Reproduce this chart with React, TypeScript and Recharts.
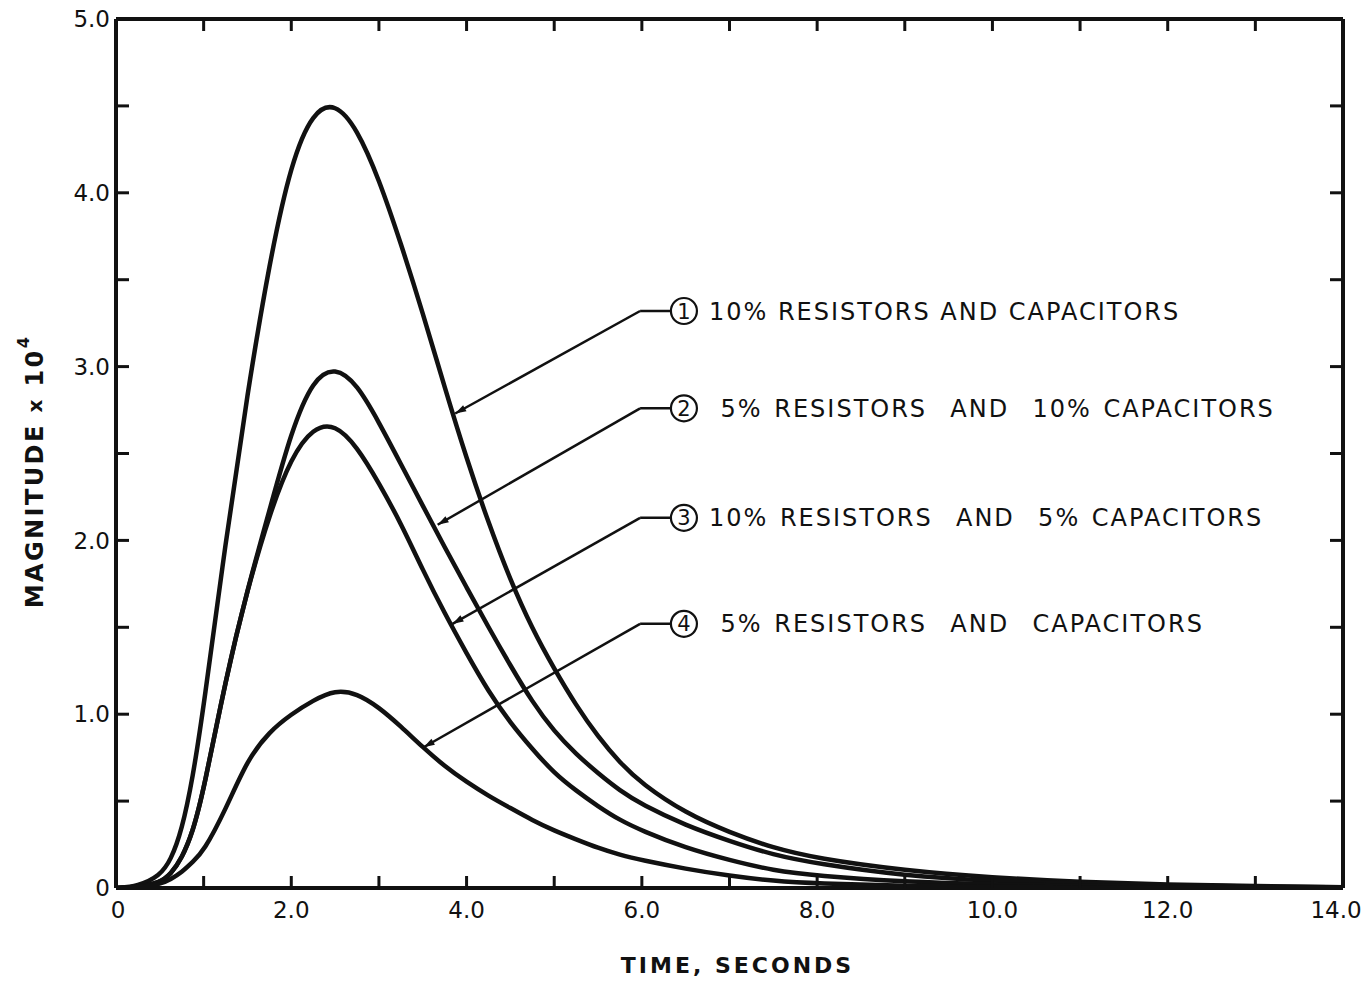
import React from 'react';
import { LineChart, Line, XAxis, YAxis, ReferenceLine, ReferenceDot } from 'recharts';

// time axis (seconds)
const TIME = [0, 0.25, 0.5, 0.625, 0.75, 0.875, 1.0, 1.25, 1.5, 1.75, 2.0, 2.25, 2.5, 2.75, 3.0, 3.25, 3.5, 3.75, 4.0, 4.25, 4.5, 4.75, 5.0, 5.25, 5.5, 5.75, 6.0, 6.5, 7.0, 7.5, 8.0, 9.0, 10.0, 11.0, 12.0, 13.0, 14.0];

// magnitude x 10^4
const CURVE_1 = [0, 0.01, 0.07, 0.16, 0.33, 0.63, 1.04, 1.99, 2.85, 3.6, 4.18, 4.47, 4.52, 4.37, 4.08, 3.71, 3.31, 2.88, 2.47, 2.1, 1.77, 1.49, 1.26, 1.05, 0.87, 0.72, 0.6, 0.43, 0.32, 0.23, 0.17, 0.1, 0.06, 0.035, 0.02, 0.01, 0.005];
const CURVE_2 = [0, 0.005, 0.03, 0.08, 0.17, 0.32, 0.56, 1.2, 1.72, 2.17, 2.63, 2.93, 3.0, 2.9, 2.68, 2.44, 2.2, 1.96, 1.73, 1.5, 1.28, 1.07, 0.9, 0.77, 0.66, 0.56, 0.48, 0.36, 0.27, 0.19, 0.14, 0.07, 0.04, 0.025, 0.015, 0.008, 0.004];
const CURVE_3 = [0, 0.005, 0.03, 0.08, 0.17, 0.32, 0.56, 1.2, 1.72, 2.15, 2.48, 2.65, 2.67, 2.54, 2.33, 2.1, 1.83, 1.58, 1.35, 1.13, 0.95, 0.8, 0.66, 0.56, 0.47, 0.39, 0.33, 0.23, 0.16, 0.1, 0.07, 0.035, 0.02, 0.012, 0.007, 0.004, 0.002];
const CURVE_4 = [0, 0.003, 0.02, 0.05, 0.09, 0.15, 0.21, 0.45, 0.74, 0.9, 1.0, 1.08, 1.14, 1.12, 1.04, 0.93, 0.81, 0.7, 0.61, 0.53, 0.46, 0.39, 0.33, 0.28, 0.23, 0.19, 0.16, 0.11, 0.07, 0.04, 0.025, 0.012, 0.006, 0.003, 0.002, 0.001, 0];

const X_TICKS = [0, 1, 2, 3, 4, 5, 6, 7, 8, 9, 10, 11, 12, 13, 14];
const Y_TICKS = [0, 0.5, 1, 1.5, 2, 2.5, 3, 3.5, 4, 4.5, 5];

// callouts: number, text, where the leader starts (y) and where the arrow hits the curve
const CALLOUT_NUM = ['1', '2', '3', '4'];
const CALLOUT_TEXT = [
  '10% RESISTORS AND CAPACITORS',
  ' 5% RESISTORS  AND  10% CAPACITORS',
  '10% RESISTORS  AND  5% CAPACITORS',
  ' 5% RESISTORS  AND  CAPACITORS',
];
const CALLOUT_Y = [3.32, 2.76, 2.13, 1.52];
const CALLOUT_TIP_X = [3.87, 3.67, 3.84, 3.51];
const CALLOUT_TIP_Y = [2.73, 2.09, 1.52, 0.81];
const CALLOUT_ELBOW_X = 5.98;
const CALLOUT_CIRCLE_X = 6.48;

const data = TIME.map((t, i) => ({
  t,
  c1: CURVE_1[i],
  c2: CURVE_2[i],
  c3: CURVE_3[i],
  c4: CURVE_4[i],
}));

const FONT = '"DejaVu Sans", Verdana, sans-serif';
const INK = '#111';

const BottomTick = (props: any) => {
  const { x, y, payload } = props;
  const v = payload.value;
  const label = v === 0 ? '0' : v % 2 === 0 ? v.toFixed(1) : '';
  // last label sits against the page edge, nudge it in a little
  const lx = v === 14 ? x - 7 : v === 0 ? x + 2 : x;
  return (
    <g>
      <line x1={x} y1={y} x2={x} y2={y - 12} stroke={INK} strokeWidth={3} />
      {label && (
        <text x={lx} y={y + 30} textAnchor="middle" fontSize={23} fontFamily={FONT} fill={INK}>
          {label}
        </text>
      )}
    </g>
  );
};

const TopTick = (props: any) => {
  const { x, y } = props;
  return <line x1={x} y1={y} x2={x} y2={y + 12} stroke={INK} strokeWidth={3} />;
};

const LeftTick = (props: any) => {
  const { x, y, payload } = props;
  const v = payload.value;
  const label = v === 0 ? '0' : Number.isInteger(v) ? v.toFixed(1) : '';
  return (
    <g>
      <line x1={x} y1={y} x2={x + 13} y2={y} stroke={INK} strokeWidth={3} />
      {label && (
        <text x={x - 6} y={y} dy="0.36em" textAnchor="end" fontSize={23} fontFamily={FONT} fill={INK}>
          {label}
        </text>
      )}
    </g>
  );
};

const RightTick = (props: any) => {
  const { x, y } = props;
  return <line x1={x} y1={y} x2={x - 13} y2={y} stroke={INK} strokeWidth={3} />;
};

const XTitle = (props: any) => {
  const vb = props.viewBox || { x: 116, y: 888, width: 1227, height: 60 };
  return (
    <text
      x={vb.x + vb.width / 2 + 8}
      y={vb.y + 85}
      textAnchor="middle"
      fontSize={22}
      fontWeight="bold"
      letterSpacing={3}
      fontFamily={FONT}
      fill={INK}
    >
      TIME, SECONDS
    </text>
  );
};

const YTitle = (props: any) => {
  const vb = props.viewBox || { x: 0, y: 19, width: 116, height: 869 };
  const cx = vb.x + 35;
  const cy = vb.y + vb.height / 2 + 18;
  return (
    <text
      x={cx}
      y={cy}
      transform={`rotate(-90 ${cx} ${cy})`}
      textAnchor="middle"
      dominantBaseline="central"
      fontSize={24}
      fontWeight="bold"
      letterSpacing={2.4}
      fontFamily={FONT}
      fill={INK}
    >
      MAGNITUDE <tspan fontSize={20}>x</tspan> 10
      <tspan fontSize={16} dy={-12}>4</tspan>
    </text>
  );
};

const ArrowLeader = (p: any) => {
  const { x1, y1, x2, y2 } = p;
  const ang = Math.atan2(y2 - y1, x2 - x1);
  const len = 11;
  const half = 3.5;
  const bx = x2 - len * Math.cos(ang);
  const by = y2 - len * Math.sin(ang);
  const pts = [
    [x2, y2],
    [bx + half * Math.sin(ang), by - half * Math.cos(ang)],
    [bx - half * Math.sin(ang), by + half * Math.cos(ang)],
  ]
    .map((q) => q.join(','))
    .join(' ');
  return (
    <g>
      <line x1={x1} y1={y1} x2={x2} y2={y2} stroke={INK} strokeWidth={2.5} />
      <polygon points={pts} fill={INK} />
    </g>
  );
};

const CalloutMark = (num: string, text: string) => (p: any) => {
  const { cx, cy } = p;
  return (
    <g>
      <circle cx={cx} cy={cy} r={13} fill="#fff" stroke={INK} strokeWidth={2.2} />
      <text x={cx} y={cy} dy="0.36em" textAnchor="middle" fontSize={21} fontFamily={FONT} fill={INK}>
        {num}
      </text>
      <text
        x={cx + 25}
        y={cy}
        dy="0.36em"
        fontSize={24}
        letterSpacing={2}
        wordSpacing={text.includes('  ') ? 2 : 0}
        fontFamily={FONT}
        fill={INK}
        style={{ whiteSpace: 'pre' }}
      >
        {text}
      </text>
    </g>
  );
};

export default function App() {
  return (
    <div style={{ position: 'absolute', left: 0, top: 0, background: '#fff' }}>
      <LineChart
        width={1365}
        height={981}
        data={data}
        margin={{ top: 18, right: 21, bottom: 33, left: 0 }}
      >
        <XAxis
          xAxisId="bottom"
          dataKey="t"
          type="number"
          domain={[0, 14]}
          ticks={X_TICKS}
          allowDataOverflow
          height={60}
          tickSize={0}
          tickMargin={0}
          tickLine={false}
          tick={<BottomTick />}
          axisLine={{ stroke: INK, strokeWidth: 4 }}
          label={<XTitle />}
        />
        <XAxis
          xAxisId="top"
          orientation="top"
          dataKey="t"
          type="number"
          domain={[0, 14]}
          ticks={X_TICKS}
          allowDataOverflow
          height={1}
          tickSize={0}
          tickMargin={0}
          tickLine={false}
          tick={<TopTick />}
          axisLine={{ stroke: INK, strokeWidth: 4 }}
        />
        <YAxis
          yAxisId="left"
          type="number"
          domain={[0, 5]}
          ticks={Y_TICKS}
          allowDataOverflow
          width={116}
          tickSize={0}
          tickMargin={0}
          tickLine={false}
          tick={<LeftTick />}
          axisLine={{ stroke: INK, strokeWidth: 4 }}
          label={<YTitle />}
        />
        <YAxis
          yAxisId="right"
          orientation="right"
          type="number"
          domain={[0, 5]}
          ticks={Y_TICKS}
          allowDataOverflow
          width={1}
          tickSize={0}
          tickMargin={0}
          tickLine={false}
          tick={<RightTick />}
          axisLine={{ stroke: INK, strokeWidth: 4 }}
        />

        {/* invisible series so the top / right frame axes get drawn */}
        <Line
          xAxisId="top"
          yAxisId="right"
          dataKey="c1"
          stroke="transparent"
          strokeWidth={0}
          dot={false}
          activeDot={false}
          legendType="none"
          isAnimationActive={false}
        />

        {['c1', 'c2', 'c3', 'c4'].map((k) => (
          <Line
            key={k}
            xAxisId="bottom"
            yAxisId="left"
            dataKey={k}
            type="basis"
            stroke={INK}
            strokeWidth={4.5}
            dot={false}
            activeDot={false}
            isAnimationActive={false}
          />
        ))}

        {CALLOUT_NUM.map((n, i) => (
          <ReferenceLine
            key={`lead-${n}`}
            xAxisId="bottom"
            yAxisId="left"
            segment={[
              { x: CALLOUT_ELBOW_X, y: CALLOUT_Y[i] },
              { x: CALLOUT_TIP_X[i], y: CALLOUT_TIP_Y[i] },
            ]}
            shape={ArrowLeader}
          />
        ))}
        {CALLOUT_NUM.map((n, i) => (
          <ReferenceLine
            key={`flat-${n}`}
            xAxisId="bottom"
            yAxisId="left"
            segment={[
              { x: CALLOUT_ELBOW_X, y: CALLOUT_Y[i] },
              { x: CALLOUT_CIRCLE_X, y: CALLOUT_Y[i] },
            ]}
            stroke={INK}
            strokeWidth={2.5}
          />
        ))}
        {CALLOUT_NUM.map((n, i) => (
          <ReferenceDot
            key={`dot-${n}`}
            xAxisId="bottom"
            yAxisId="left"
            x={CALLOUT_CIRCLE_X}
            y={CALLOUT_Y[i]}
            r={13}
            shape={CalloutMark(n, CALLOUT_TEXT[i])}
          />
        ))}
      </LineChart>
    </div>
  );
}
